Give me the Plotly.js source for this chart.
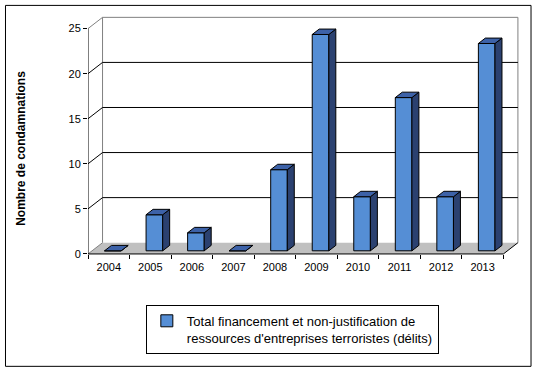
<!DOCTYPE html>
<html>
<head>
<meta charset="utf-8">
<script src="https://cdn.plot.ly/plotly-3.0.1.min.js"></script>
<style>
  html, body { margin: 0; padding: 0; background: #ffffff; }
  #chart { width: 535px; height: 371px; }
</style>
</head>
<body>
<div id="chart"></div>
<script>
// ---- data ----
const years = ['2004', '2005', '2006', '2007', '2008', '2009', '2010', '2011', '2012', '2013'];
const values = [0, 4, 2, 0, 9, 24, 6, 17, 6, 23];
const yTickVals = [0, 5, 10, 15, 20, 25];
const seriesName = "Total financement et non-justification de<br>ressources d'entreprises terroristes (délits)";
const yTitle = 'Nombre de condamnations';

// ---- 3D look geometry (in axis units) ----
const DX = 0.35, DY = 1.25;     // depth of the floor / back wall offset
const F0 = 0.28, F1 = 0.76;     // front and back of bars as fraction of depth
const W = 0.40;                 // bar width (category units)
const FRONT = '#558ED5', SIDE = '#2B4170', TOP = '#3D62A8';
const FONT = 'Liberation Sans, Arial, sans-serif';

const idx = years.map((_, i) => i);
const yMax = yTickVals[yTickVals.length - 1];
const xLo = -0.5, xHi = years.length - 0.5;

const fx = F0 * DX, fy = F0 * DY;
const ddx = (F1 - F0) * DX, ddy = (F1 - F0) * DY;

// top and side faces of the bars
const topX = [], topY = [], sideX = [], sideY = [];
idx.forEach(i => {
  const v = values[i];
  const xL = i - W / 2 + fx, xR = i + W / 2 + fx;
  const yB = fy, yT = v + fy;
  topX.push(xL, xR, xR + ddx, xL + ddx, xL, null);
  topY.push(yT, yT, yT + ddy, yT + ddy, yT, null);
  sideX.push(xR, xR + ddx, xR + ddx, xR, xR, null);
  sideY.push(yB, yB + ddy, yT + ddy, yT, yB, null);
});

const traces = [
  {
    type: 'scatter', mode: 'lines', x: sideX, y: sideY, fill: 'toself',
    fillcolor: SIDE, line: { color: '#000000', width: 1 }, showlegend: false, hoverinfo: 'skip'
  },
  {
    type: 'scatter', mode: 'lines', x: topX, y: topY, fill: 'toself',
    fillcolor: TOP, line: { color: '#000000', width: 1 }, showlegend: false, hoverinfo: 'skip'
  },
  {
    type: 'bar', name: seriesName,
    x: idx.map(i => i + fx), y: values, base: idx.map(() => fy), width: W,
    marker: { color: FRONT, line: { color: '#000000', width: 1 } },
    showlegend: true
  }
];

// ---- walls, floor, gridlines ----
const shapes = [];
// back wall
shapes.push({
  type: 'path', xref: 'x', yref: 'y', layer: 'below',
  path: `M ${xLo + DX} ${DY} L ${xLo + DX} ${yMax + DY} L ${xHi + DX} ${yMax + DY} L ${xHi + DX} ${DY}`,
  fillcolor: '#ffffff', line: { color: '#808080', width: 1 }
});
// floor
shapes.push({
  type: 'path', xref: 'x', yref: 'y', layer: 'below',
  path: `M ${xLo} 0 L ${xHi} 0 L ${xHi + DX} ${DY} L ${xLo + DX} ${DY} Z`,
  fillcolor: '#C0C0C0', line: { width: 0 }
});
// floor right edge
shapes.push({ type: 'line', xref: 'x', yref: 'y', layer: 'below',
  x0: xHi, y0: 0, x1: xHi + DX, y1: DY, line: { color: '#000000', width: 1 } });
// gridlines on back wall + side diagonals
yTickVals.forEach(v => {
  const inner = v > 0 && v < yMax;
  const col = inner ? '#000000' : '#808080';
  shapes.push({ type: 'line', xref: 'x', yref: 'y', layer: 'below',
    x0: xLo, y0: v, x1: xLo + DX, y1: v + DY, line: { color: col, width: 1 } });
  if (inner) {
    shapes.push({ type: 'line', xref: 'x', yref: 'y', layer: 'below',
      x0: xLo + DX, y0: v + DY, x1: xHi + DX, y1: v + DY, line: { color: '#000000', width: 1 } });
  }
});
// front axes lines
shapes.push({ type: 'line', xref: 'x', yref: 'y', layer: 'above',
  x0: xLo, y0: 0, x1: xLo, y1: yMax, line: { color: '#000000', width: 1 } });
shapes.push({ type: 'line', xref: 'x', yref: 'y', layer: 'above',
  x0: xLo, y0: 0, x1: xHi, y1: 0, line: { color: '#000000', width: 1 } });
// outer chart border
shapes.push({ type: 'rect', xref: 'paper', yref: 'paper', layer: 'above',
  x0: -0.191, x1: 1.0255, y0: -0.322, y1: 1.04, line: { color: '#000000', width: 1 } });

const yRange = [-3, 26.4];

const layout = {
  width: 535, height: 371,
  margin: { l: 88, r: 15, t: 16, b: 90, pad: 0 },
  paper_bgcolor: '#ffffff', plot_bgcolor: 'rgba(0,0,0,0)',
  font: { family: FONT, size: 11, color: '#000000' },
  showlegend: true,
  xaxis: {
    type: 'linear', range: [xLo, 9.9], anchor: 'free',
    position: (0 - yRange[0]) / (yRange[1] - yRange[0]),
    tickmode: 'array', tickvals: idx, ticktext: years,
    ticks: '', ticklen: 0, ticklabelstandoff: 5,
    minor: { tickmode: 'linear', tick0: -0.5, dtick: 1, ticks: 'outside', ticklen: 4,
             tickcolor: '#000000', tickwidth: 1, showgrid: false },
    showgrid: false, zeroline: false, showline: false,
    tickfont: { family: FONT, size: 11, color: '#000000' },
    fixedrange: true
  },
  yaxis: {
    range: yRange, tickmode: 'array', tickvals: yTickVals,
    ticks: 'outside', ticklen: 4, tickcolor: '#000000', tickwidth: 1,
    showgrid: false, zeroline: false, showline: false,
    tickfont: { family: FONT, size: 11, color: '#000000' },
    title: { text: yTitle, font: { family: FONT, size: 12, color: '#000000', weight: 'bold' }, standoff: 40 },
    automargin: false,
    fixedrange: true
  },
  legend: {
    x: 0.473, xanchor: 'center', y: -0.09, yanchor: 'top',
    bordercolor: '#000000', borderwidth: 1, bgcolor: '#ffffff',
    font: { family: FONT, size: 13, color: '#000000' },
    valign: 'top', orientation: 'v'
  },
  bargap: 0,
  shapes: shapes
};

Plotly.newPlot('chart', traces, layout, { displayModeBar: false, staticPlot: true });
</script>
</body>
</html>
